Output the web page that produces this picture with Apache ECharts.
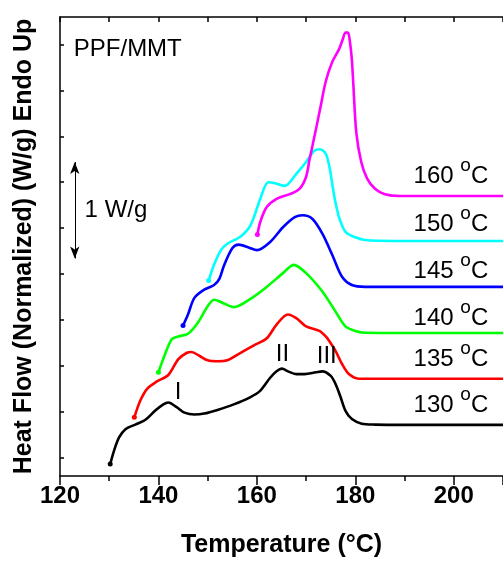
<!DOCTYPE html>
<html>
<head>
<meta charset="utf-8">
<script src="https://cdn.jsdelivr.net/npm/echarts@6/dist/echarts.min.js"></script>
<style>html,body{margin:0;padding:0;background:#fff;}#c{width:503px;height:563px;}</style>
</head>
<body>
<div id="c"></div>
<script>
// ---- data (temperature in °C, heat flow in W/g, curves offset vertically) ----
const t130 = [130.2,131.0,132.0,133.3,135.3,137.3,139.3,141.0,142.0,143.7,145.3,147.3,149.3,152.0,155.3,158.7,160.7,162.7,164.0,165.1,166.3,168.0,169.7,172.0,173.3,175.0,176.0,177.0,178.0,179.3,181.3,184.0,190,200,210];
const h130 = [0.13,0.28,0.42,0.51,0.56,0.61,0.71,0.78,0.80,0.75,0.69,0.67,0.68,0.72,0.78,0.86,0.93,1.07,1.14,1.17,1.14,1.11,1.11,1.13,1.14,1.09,1.00,0.86,0.71,0.62,0.57,0.56,0.557,0.557,0.557];

const t135 = [135.1,136.3,137.7,139.7,142.0,144.0,145.7,146.7,148.3,150.0,152.0,154.0,156.0,159.3,162.0,164.0,166.3,168.0,170.0,172.7,174.0,174.7,176.0,177.3,178.7,180.7,184,190,200,210];
const h135 = [0.64,0.82,0.95,1.03,1.10,1.27,1.34,1.35,1.31,1.26,1.25,1.26,1.32,1.42,1.50,1.65,1.76,1.72,1.63,1.58,1.52,1.47,1.36,1.22,1.11,1.06,1.06,1.06,1.06,1.06];

const t140 = [140.0,141.3,142.7,144.0,146.0,148.0,150.0,151.3,153.3,155.3,158.7,162.0,165.3,167.5,170.0,173.3,176.0,178.0,180.0,182.0,190,200,210];
const h140 = [1.13,1.32,1.49,1.52,1.55,1.67,1.85,1.92,1.88,1.84,1.93,2.06,2.21,2.30,2.21,2.01,1.79,1.63,1.58,1.56,1.558,1.558,1.558];

const t145 = [145.0,146.0,147.3,149.3,151.3,152.4,153.3,155.0,156.3,158.3,160.0,162.7,165.3,167.7,169.3,171.3,173.3,175.3,177.3,179.3,182.0,190,200,210];
const h145 = [1.64,1.76,1.94,2.03,2.08,2.15,2.29,2.48,2.52,2.49,2.46,2.55,2.71,2.82,2.84,2.80,2.64,2.41,2.17,2.08,2.06,2.06,2.06,2.06];

const t150 = [150.2,151.3,152.7,154.0,156.7,158.7,160.7,162.3,163.7,165.7,168.0,170.0,171.6,172.8,174.0,174.8,175.4,176.0,176.8,178.0,180.0,182.0,188,200,210];
const h150 = [2.13,2.30,2.46,2.53,2.61,2.73,3.02,3.20,3.19,3.16,3.29,3.42,3.54,3.56,3.51,3.35,3.15,2.97,2.80,2.66,2.60,2.57,2.56,2.56,2.56];

const t160 = [160.1,160.7,162.0,164.0,166.7,168.7,170.0,170.7,171.3,172.2,173.0,174.0,175.3,176.7,177.4,178.0,178.5,178.9,179.3,179.6,180.2,181.2,182.4,184.0,186.0,189.0,200,210];
const h160 = [2.63,2.77,2.93,3.02,3.07,3.13,3.26,3.45,3.60,3.83,4.04,4.30,4.51,4.65,4.75,4.83,4.83,4.73,4.53,4.26,3.74,3.42,3.24,3.13,3.07,3.05,3.05,3.05];

const curveNames = ['130','135','140','145','150','160'];
const curveColors = ['#000000','#ff0000','#00ff00','#0000ff','#00ffff','#ff00ff'];
const curveT = [t130,t135,t140,t145,t150,t160];
const curveH = [h130,h135,h140,h145,h150,h160];

// label anchors (data units)
const labelX = 207;
const labelY = [0.77,1.27,1.72,2.23,2.74,3.26];
const peakNames = ['I','II','III'];
const peakX = [144.0,165.2,174.2];
const peakY = [0.91,1.32,1.30];
const yTicks = [0.2,0.7,1.2,1.7,2.2,2.7,3.2,3.7,4.2,4.7];
const xTicks = [120,140,160,180,200];
const scaleBar = [3.42,2.37]; // 1 W/g bar ends
const scaleBarX = 123;

const FONT = 'Arial, "Liberation Sans", Helvetica, sans-serif';

const series = curveNames.map((n,k)=>({
  name: n, type:'line', smooth:0.3, symbol:'none',
  lineStyle:{color:curveColors[k], width:2.6},
  itemStyle:{color:curveColors[k]},
  data: curveT[k].map((t,i)=> i===0 ? {value:[t,curveH[k][i]], symbol:'circle', symbolSize:5} : [t,curveH[k][i]]),
  z: 3
}));

series[0].markLine = {
  silent:true, symbol:['arrow','arrow'], symbolSize:[7,12],
  lineStyle:{color:'#000', width:1, type:'solid'},
  label:{show:false},
  data:[[{coord:[scaleBarX,scaleBar[0]]},{coord:[scaleBarX,scaleBar[1]]}]]
};

const textItems = [];
curveNames.forEach((n,i)=>{
  textItems.push({value:[labelX,labelY[i]], label:{position:'left', distance:0, formatter:'{n|'+n+' }{s|o}{n|C}'}});
});
peakNames.forEach((n,i)=>{
  textItems.push({value:[peakX[i],peakY[i]], label:{position:'inside', formatter:'{n|'+n+'}'}});
});
textItems.push({value:[122.8,4.65], label:{position:'right', distance:0, formatter:'{n|PPF/MMT}'}});
textItems.push({value:[125,2.89], label:{position:'right', distance:0, formatter:'{n|1 W/g}'}});

series.push({
  type:'scatter', symbol:'circle', symbolSize:0, itemStyle:{color:'#000', opacity:1}, silent:true, z:5,
  label:{show:true, color:'#000', opacity:1, fontFamily:FONT,
    rich:{
      n:{fontSize:24, lineHeight:40, fontFamily:FONT, color:'#000'},
      s:{fontSize:19, lineHeight:17, verticalAlign:'top', fontFamily:FONT, color:'#000'}
    }},
  data:textItems
});

const chart = echarts.init(document.getElementById('c'), null, {renderer:'canvas'});
chart.setOption({
  animation:false,
  backgroundColor:'#fff',
  grid:{left:60, right:-7, top:17, bottom:84, containLabel:false},
  xAxis:[{
    type:'value', min:120, max:210, interval:20, position:'bottom',
    axisLine:{show:true, onZero:false, lineStyle:{color:'#000', width:1.5}},
    axisTick:{show:true, inside:false, length:9, lineStyle:{color:'#000', width:1.5}},
    minorTick:{show:true, splitNumber:2, length:5, lineStyle:{color:'#000', width:1.5}},
    axisLabel:{color:'#000', fontSize:24, fontWeight:'bold', fontFamily:FONT, margin:8,
      customValues:xTicks},
    splitLine:{show:false},
    name:'Temperature (°C)', nameLocation:'middle', nameGap:57,
    nameTextStyle:{color:'#000', fontSize:25, fontWeight:'bold', fontFamily:FONT}
  },{
    type:'value', min:120, max:210, interval:10, position:'top',
    axisLine:{show:true, onZero:false, lineStyle:{color:'#000', width:1.5}},
    axisTick:{show:true, inside:true, length:5, lineStyle:{color:'#000', width:1.5}},
    axisLabel:{show:false}, splitLine:{show:false}
  }],
  yAxis:[{
    type:'value', min:0, max:5, position:'left',
    axisLine:{show:true, onZero:false, lineStyle:{color:'#000', width:1.5}},
    axisTick:{show:true, inside:true, length:4, customValues:yTicks, lineStyle:{color:'#000', width:1.5}},
    axisLabel:{show:false}, splitLine:{show:false},
    name:'Heat Flow (Normalized) (W/g) Endo Up', nameLocation:'middle', nameGap:23,
    nameTextStyle:{color:'#000', fontSize:25, fontWeight:'bold', fontFamily:FONT}
  }],
  series:series
});
</script>
</body>
</html>
